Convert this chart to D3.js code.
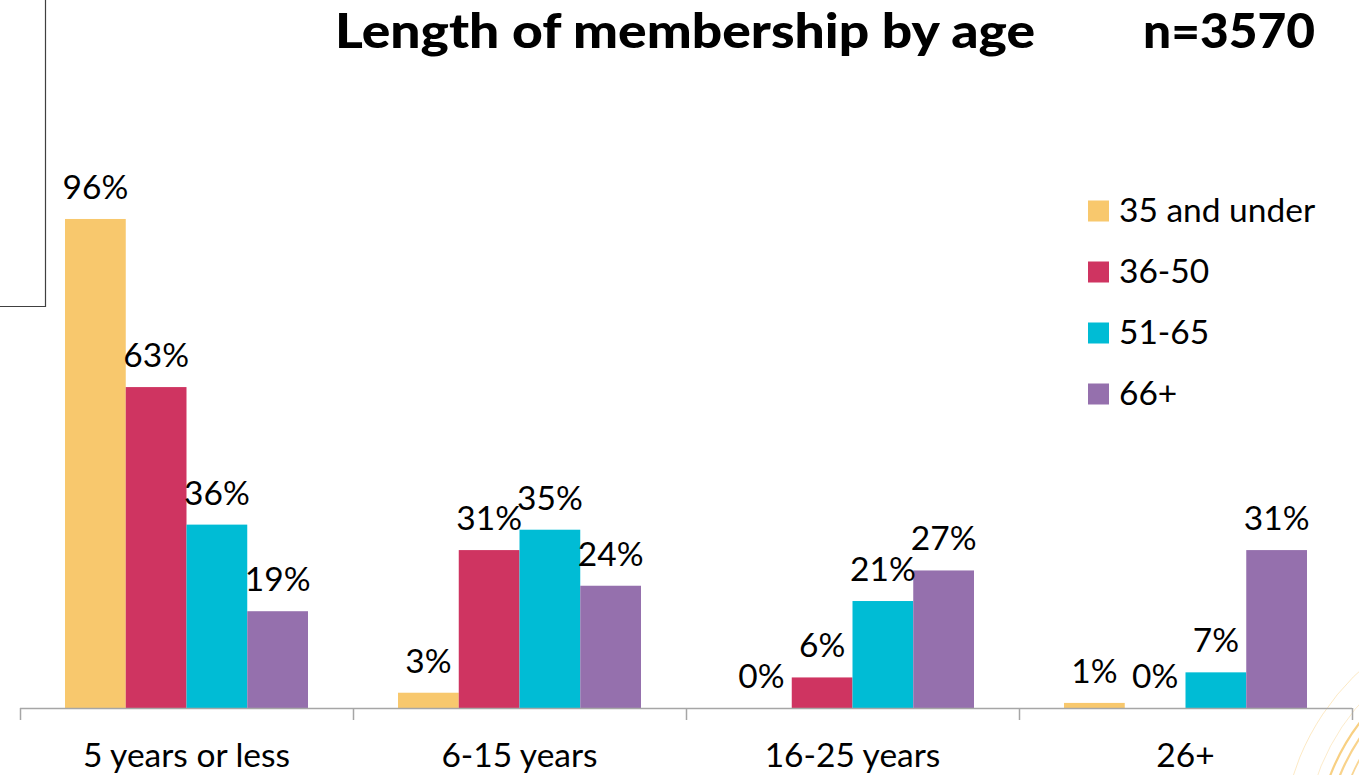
<!DOCTYPE html>
<html>
<head>
<meta charset="utf-8">
<script src="https://cdn.jsdelivr.net/npm/d3@7"></script>
<style>
  html, body { margin: 0; padding: 0; background: #fff; }
  svg { display: block; }
</style>
</head>
<body>
<svg id="chart" width="1359" height="775"></svg>
<script>
// Membership tenure groups and respondent age bands
const categories = ["5 years or less", "6-15 years", "16-25 years", "26+"];
const series = ["35 and under", "36-50", "51-65", "66+"];
const colors = ["#F8C86D", "#CF3461", "#00BCD5", "#9570AD"];

// Share of each age band (percent) falling in each tenure group
const age35Under = [96, 3, 0, 1];
const age36to50 = [63, 31, 6, 0];
const age51to65 = [36, 35, 21, 7];
const age66Plus = [19, 24, 27, 31];
const seriesValues = [age35Under, age36to50, age51to65, age66Plus];

const titleText = "Length of membership by age";
const sampleText = "n=3570";

const W = 1359, H = 775;
const svg = d3.select("#chart");

const bodyFont = "Lato, 'Open Sans', 'Noto Sans', sans-serif";
const titleFont = "Lato, 'Open Sans', 'Noto Sans', sans-serif";
const bodySize = 33.5;

const margin = { left: 20, right: 7, baseline: 708 };

const x0 = d3.scaleBand()
  .domain(categories)
  .range([margin.left, W - margin.right])
  .paddingInner(0)
  .paddingOuter(0);

const groupPad = 45;
const x1 = d3.scaleBand()
  .domain(series)
  .range([groupPad, x0.bandwidth() - groupPad])
  .padding(0);

const y = d3.scaleLinear()
  .domain([0, 100])
  .range([margin.baseline, margin.baseline - 509.4]);

// Decorative concentric arcs in the lower-right corner
const deco = svg.append("g");
const arcCenter = [1529, 852];
[[248, 0.8, 0.45], [225, 0.8, 0.4], [213, 2.2, 0.75], [204, 2.2, 0.7], [193, 1.8, 0.65]]
  .forEach(([r, w, o]) => {
    deco.append("circle")
      .attr("cx", arcCenter[0]).attr("cy", arcCenter[1]).attr("r", r)
      .attr("fill", "none").attr("stroke", "#F6C05A")
      .attr("stroke-width", w).attr("opacity", o);
  });

// Frame fragment in the upper-left corner
svg.append("path")
  .attr("d", "M45.5,0 V306.5 H0")
  .attr("fill", "none")
  .attr("stroke", "#404040")
  .attr("stroke-width", 1.2);

// Bars
const groups = svg.append("g").selectAll("g")
  .data(categories)
  .join("g")
  .attr("transform", d => `translate(${x0(d)},0)`);

const cells = (c, ci) => series.map((s, si) => ({ s, si, v: seriesValues[si][ci] }));

groups.selectAll("rect")
  .data(cells)
  .join("rect")
  .attr("x", d => x1(d.s))
  .attr("width", x1.bandwidth())
  .attr("y", d => y(d.v))
  .attr("height", d => y(0) - y(d.v))
  .attr("fill", d => colors[d.si]);

// Value labels
groups.selectAll("text")
  .data(cells)
  .join("text")
  .attr("x", d => x1(d.s) + x1.bandwidth() / 2)
  .attr("y", d => y(d.v) - 20)
  .attr("text-anchor", "middle")
  .attr("font-family", bodyFont)
  .attr("font-size", bodySize)
  .attr("fill", "#000")
  .text(d => d.v + "%");

// Category axis
const axis = d3.axisBottom(x0).tickSize(0).tickPadding(0);
const axisG = svg.append("g")
  .attr("transform", `translate(0,${margin.baseline})`)
  .call(axis);
axisG.select(".domain").remove();
axisG.selectAll(".tick text").remove();
axisG.append("line")
  .attr("x1", margin.left).attr("x2", W - margin.right)
  .attr("y1", 0.5).attr("y2", 0.5)
  .attr("stroke", "#A6A6A6").attr("stroke-width", 1.5);
const boundaries = categories.map(c => x0(c)).concat([x0(categories[categories.length - 1]) + x0.bandwidth()]);
axisG.selectAll(".bound")
  .data(boundaries)
  .join("line")
  .attr("class", "bound")
  .attr("x1", d => d + 0.5).attr("x2", d => d + 0.5)
  .attr("y1", 0).attr("y2", 12)
  .attr("stroke", "#A6A6A6").attr("stroke-width", 1.5);
axisG.selectAll(".cat")
  .data(categories)
  .join("text")
  .attr("class", "cat")
  .attr("x", d => x0(d) + x0.bandwidth() / 2)
  .attr("y", 59)
  .attr("text-anchor", "middle")
  .attr("font-family", bodyFont)
  .attr("font-size", bodySize)
  .attr("fill", "#000")
  .text(d => d);

// Legend
const legend = svg.append("g").attr("transform", "translate(1088,0)");
const legendY = d3.scalePoint().domain(series).range([211, 394]);
series.forEach((s, i) => {
  legend.append("rect")
    .attr("x", 0).attr("y", legendY(s) - 10.5)
    .attr("width", 21).attr("height", 21)
    .attr("fill", colors[i]);
  legend.append("text")
    .attr("x", 31).attr("y", legendY(s) + 11)
    .attr("font-family", bodyFont)
    .attr("font-size", bodySize)
    .attr("fill", "#000")
    .text(s);
});

// Title
svg.append("text")
  .attr("x", 335).attr("y", 48)
  .attr("font-family", titleFont)
  .attr("font-weight", 900)
  .attr("font-size", 47)
  .attr("textLength", 700)
  .attr("lengthAdjust", "spacingAndGlyphs")
  .attr("fill", "#000")
  .text(titleText);
svg.append("text")
  .attr("x", 1143).attr("y", 48)
  .attr("font-family", titleFont)
  .attr("font-weight", 900)
  .attr("font-size", 47)
  .attr("textLength", 172)
  .attr("lengthAdjust", "spacingAndGlyphs")
  .attr("fill", "#000")
  .text(sampleText);
</script>
</body>
</html>
